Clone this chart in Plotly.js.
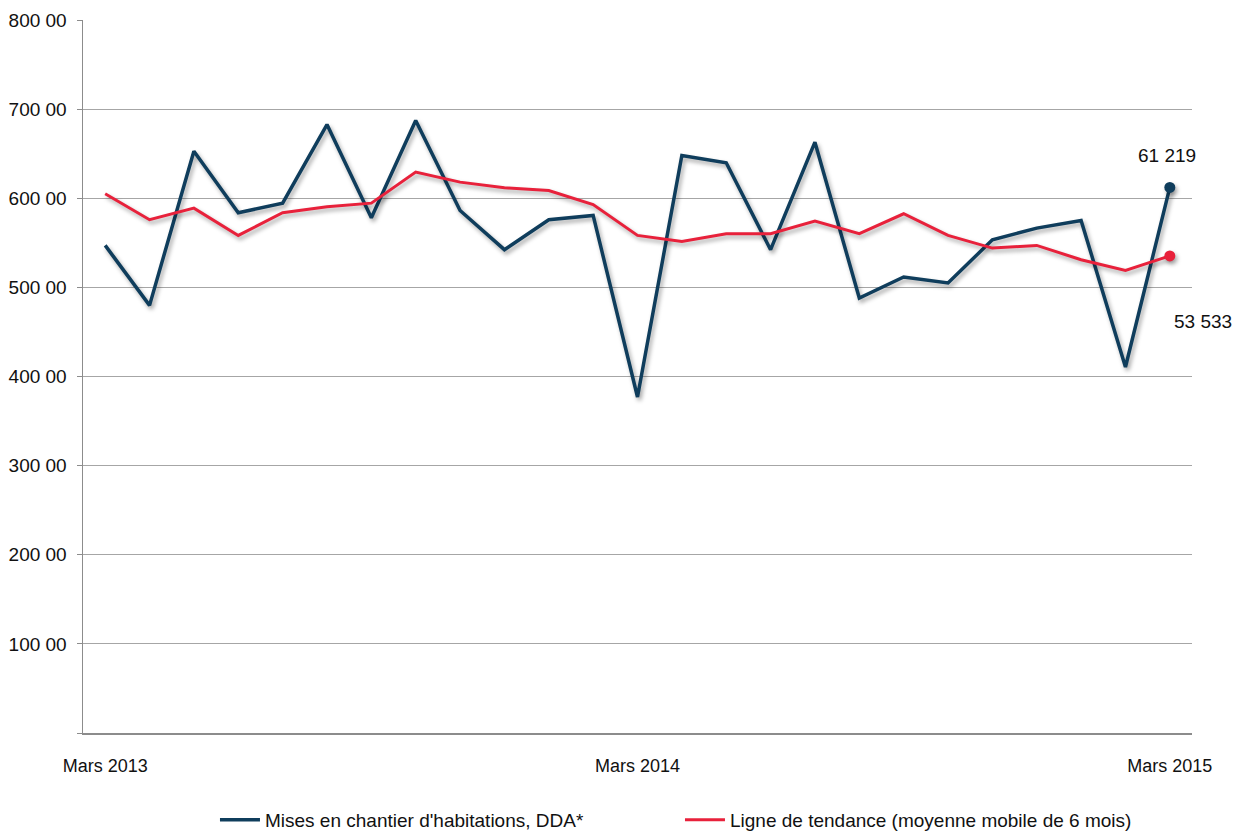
<!DOCTYPE html>
<html>
<head>
<meta charset="utf-8">
<script src="https://cdn.plot.ly/plotly-3.0.1.min.js"></script>
<style>
html,body{margin:0;padding:0;background:#fff;}
#chart{width:1248px;height:838px;}
#chart .scatterlayer .trace .js-line{filter: drop-shadow(2px 3px 2px rgba(0,0,0,0.35));}
#chart .scatterlayer .trace .point{filter: drop-shadow(2px 3px 2px rgba(0,0,0,0.35));}
</style>
</head>
<body>
<div id="chart"></div>
<script>
const months = ["Mars 2013","Avr 2013","Mai 2013","Juin 2013","Juil 2013","Août 2013","Sept 2013","Oct 2013","Nov 2013","Déc 2013","Janv 2014","Févr 2014",
  "Mars 2014","Avr 2014","Mai 2014","Juin 2014","Juil 2014","Août 2014","Sept 2014","Oct 2014","Nov 2014","Déc 2014","Janv 2015","Févr 2015","Mars 2015"];
const misesEnChantier = [54710,47980,65280,58370,59450,68270,57810,68720,58630,54230,57590,58070,
  37700,64800,63980,54230,66290,48800,51160,50490,55340,56650,57510,41070,61219];
const tendance = [60500,57590,58890,55830,58370,59050,59450,62930,61810,61170,60870,59300,
  55830,55160,56020,56020,57440,56020,58260,55830,54410,54710,53100,51910,53533];
const xTickVals = ["Mars 2013","Mars 2014","Mars 2015"];
const yTickVals = [0,10000,20000,30000,40000,50000,60000,70000,80000];
const yTickText = ["","100 00","200 00","300 00","400 00","500 00","600 00","700 00","800 00"];
const seriesNames = ["Mises en chantier d'habitations, DDA*","Ligne de tendance (moyenne mobile de 6 mois)"];

const BLUE = "#0f3d5c", RED = "#e8213b";
const fmt = v => String(v).replace(/\B(?=(\d{3})+(?!\d))/g, " ");
const last = a => a[a.length - 1];
const lastX = last(months);

const traces = [
  {x: months, y: misesEnChantier, type: "scatter", mode: "lines", name: seriesNames[0],
   line: {color: BLUE, width: 3.5}},
  {x: months, y: tendance, type: "scatter", mode: "lines", name: seriesNames[1],
   line: {color: RED, width: 3}},
  {x: [lastX], y: [last(misesEnChantier)], type: "scatter", mode: "markers", showlegend: false,
   marker: {color: BLUE, size: 11}},
  {x: [lastX], y: [last(tendance)], type: "scatter", mode: "markers", showlegend: false,
   marker: {color: RED, size: 11}}
];

const layout = {
  width: 1248, height: 838,
  margin: {l: 83, r: 56, t: 20, b: 105, autoexpand: false},
  paper_bgcolor: "#fff", plot_bgcolor: "#fff",
  font: {family: "Liberation Sans, Arial, sans-serif", size: 19, color: "#111"},
  showlegend: true,
  legend: {orientation: "h", x: 0.119, xanchor: "left", y: -0.122, yanchor: "middle",
    font: {size: 19, color: "#111"}, itemwidth: 40, entrywidth: 410, entrywidthmode: "pixels",
    tracegroupgap: 0},
  xaxis: {type: "category", range: [-0.5, 24.5], tickvals: xTickVals, ticktext: xTickVals,
    showgrid: false, zeroline: false, showline: true, linecolor: "#8c8c8c", linewidth: 1.5,
    ticks: "", ticklen: 0, ticklabelstandoff: 16, tickfont: {size: 18}, automargin: false},
  yaxis: {range: [0, 80000], tickvals: yTickVals, ticktext: yTickText,
    showgrid: true, gridcolor: "#a6a6a6", gridwidth: 1.2, zeroline: false,
    showline: true, linecolor: "#8c8c8c", linewidth: 1.5,
    ticks: "outside", ticklen: 5, tickcolor: "#8c8c8c", ticklabelstandoff: 6,
    tickfont: {size: 19}, automargin: false},
  annotations: [
    {x: lastX, y: last(misesEnChantier), xref: "x", yref: "y", text: fmt(last(misesEnChantier)),
     showarrow: false, yshift: 32, xshift: -3, font: {size: 19, color: "#111"}},
    {x: lastX, y: last(tendance), xref: "x", yref: "y", text: fmt(last(tendance)),
     showarrow: false, yshift: -66, xshift: 33, font: {size: 19, color: "#111"}}
  ]
};

Plotly.newPlot("chart", traces, layout, {displayModeBar: false, staticPlot: true});
</script>
</body>
</html>
